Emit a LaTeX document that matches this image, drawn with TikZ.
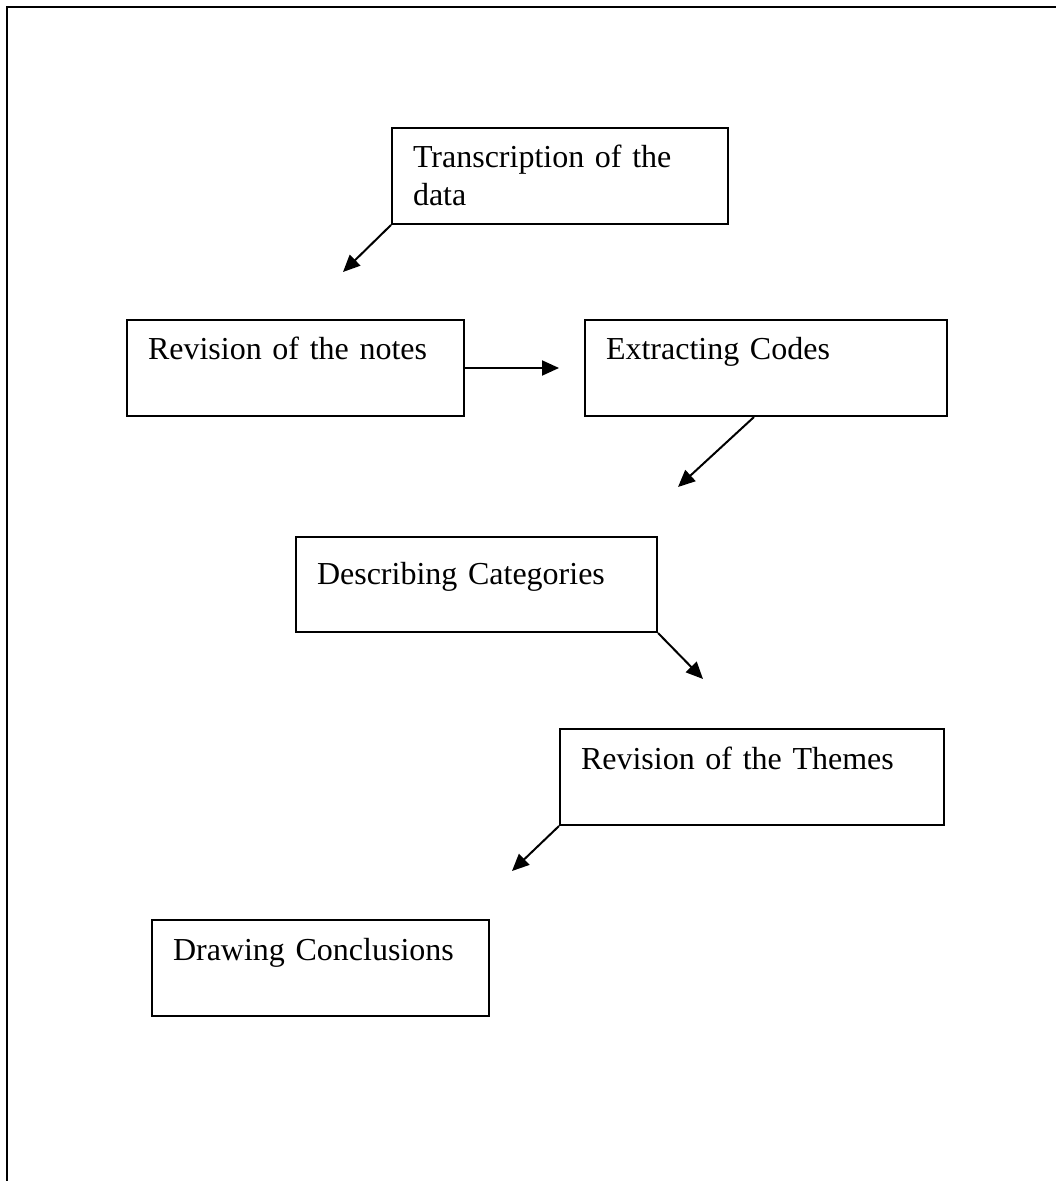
\documentclass[tikz,border=0pt]{standalone}
\usepackage{fontspec}
\setmainfont{Liberation Serif}
\usetikzlibrary{positioning,arrows.meta}
\tikzset{
stage/.style={draw,line width=1pt,anchor=north west,align=left,inner xsep=10.5pt,inner ysep=0pt,text height=20pt,text depth=28pt,font=\fontsize{16}{19}\selectfont},
flow/.style={line width=1pt,-{Triangle[length=8.5pt,width=7.5pt]}}
}
\begin{document}
\begin{tikzpicture}[x=0.5pt,y=-0.5pt]
\useasboundingbox (0,0) rectangle (1056,1181);
\draw[line width=1.2pt] (7,1181) -- (7,7) -- (1056,7);
\node[stage,text width=147pt](tr) at (391,127) {Transcription of the\\data};
\node[stage,text width=147.5pt](notes) at (126,319) {Revision of the notes};
\node[stage,text width=160pt,right=59.5pt of notes](codes) {Extracting Codes};
\node[stage,text width=159.5pt,text height=23.5pt,text depth=24pt](cat) at (295,536) {Describing Categories};
\node[stage,text width=171pt](th) at (559,728) {Revision of the Themes};
\node[stage,text width=147.5pt](concl) at (151,919) {Drawing Conclusions};
\coordinate (e1) at (343,272);
\coordinate (e2) at (559,367);
\coordinate (e3) at (678,487);
\coordinate (e4) at (703,679);
\coordinate (e5) at (512,871);
\draw[flow](tr.south west)--(e1);
\draw[flow](notes.east)--(notes.east -| e2);
\draw[flow]([xshift=-6pt]codes.south)--(e3);
\draw[flow](cat.south east)--(e4);
\draw[flow](th.south west)--(e5);
\end{tikzpicture}
\end{document}
